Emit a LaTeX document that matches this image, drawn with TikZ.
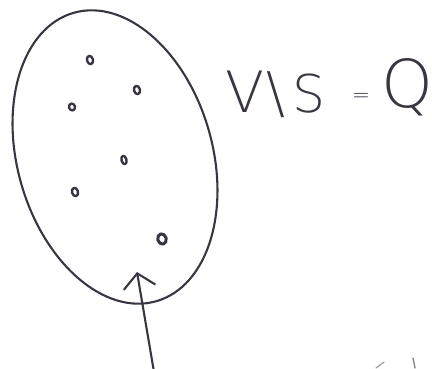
\documentclass[tikz,border=0pt]{standalone}
\usepackage{fontspec}
\newfontfamily\handfont{DejaVu Sans ExtraLight}
\usetikzlibrary{shapes.geometric,arrows.meta}
\definecolor{ink}{HTML}{3B3542}
\tikzset{
  pen/.style={draw=ink, line width=2.1pt, line cap=round, line join=round},
  speck/.style={pen, ellipse, line width=2.4pt, minimum width=6pt, minimum height=8.5pt, inner sep=0pt},
  bigspeck/.style={speck, line width=3pt, minimum width=8.5pt, minimum height=10.5pt},
  label/.style={text=ink, inner sep=0pt, anchor=base},
  pointer/.style={pen, -{Straight Barb[length=14pt,width=32pt,line width=2.1pt]}}
}
\begin{document}
\begin{tikzpicture}[x=1pt,y=-1pt]
\useasboundingbox (0,0) rectangle (432,368);
\node[pen, ellipse, minimum width=195pt, minimum height=300pt, inner sep=0pt, rotate=16] (set) at (115,157) {};
\node[speck, rotate=15] (d1) at (90,60) {};
\node[speck, rotate=15] (d2) at (137,90) {};
\node[speck, rotate=15, minimum height=7pt] (d3) at (72,107) {};
\node[speck, rotate=15, minimum width=5pt] (d4) at (124,160) {};
\node[speck, rotate=15] (d5) at (75,192) {};
\node[bigspeck, rotate=15] (d6) at (162,239) {};
\node[label, font=\handfont\fontsize{57}{57}\selectfont] (v) at (245,112) {V};
\node[label, font=\handfont\fontsize{56}{56}\selectfont] (bs) at (276,112) {\textbackslash};
\node[label, font=\handfont\fontsize{52}{52}\selectfont] (s) at (309,112) {S};
\node[label, font=\handfont\fontsize{22}{22}\selectfont] (eq) at (361,102) {=};
\node[label, font=\handfont\fontsize{66}{66}\selectfont] (q) at (407,107) {Q};
\coordinate (tail) at (154,372);
\coordinate (tip) at (137,272);
\draw[pointer] (tail) -- (tip);
\draw[pen, draw=ink!50, line width=1.2pt] (376,368) -- (384,362);
\draw[pen, draw=ink!60, line width=1.4pt] (413,358) -- (415,368);
\end{tikzpicture}
\end{document}
